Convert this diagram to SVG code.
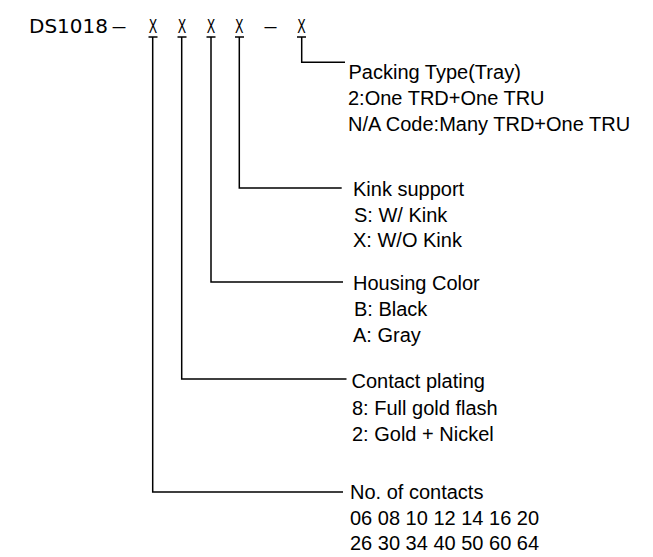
<svg xmlns="http://www.w3.org/2000/svg" width="653" height="557" viewBox="0 0 653 557">
<style>
.hdr{font-family:"DejaVu Sans",sans-serif;font-size:20px;fill:#000}
.lbl{font-family:"Liberation Sans",Arial,sans-serif;font-size:20px;fill:#000}
.c{fill:none;stroke:#000;stroke-width:1.5}
</style>
<rect width="653" height="557" fill="#fff"/>
<g id="header">
<text class="hdr" x="29" y="33">DS1018</text>
<text class="hdr" x="111" y="33" textLength="16" lengthAdjust="spacingAndGlyphs">–</text>
<text class="hdr" x="263" y="33" textLength="15" lengthAdjust="spacingAndGlyphs">–</text>
<text class="hdr" text-anchor="middle" transform="translate(153,33) scale(0.62,1)">X</text>
<text class="hdr" text-anchor="middle" transform="translate(182,33) scale(0.62,1)">X</text>
<text class="hdr" text-anchor="middle" transform="translate(211,33) scale(0.62,1)">X</text>
<text class="hdr" text-anchor="middle" transform="translate(239.3,33) scale(0.62,1)">X</text>
<text class="hdr" text-anchor="middle" transform="translate(301.5,33) scale(0.62,1)">X</text>
</g>
<g id="connectors">
<path class="c" d="M148.5 37H157.5M177.5 37H186.5M206.5 37H215.5M235 37H244M297 37H306"/>
<path class="c" d="M152.7 37V492H343"/>
<path class="c" d="M181.7 37V379H346.5"/>
<path class="c" d="M211 37V282H343"/>
<path class="c" d="M239.3 37V188H341.7"/>
<path class="c" d="M301.7 37V62.3H345"/>
</g>
<g id="packing">
<text class="lbl" x="348.5" y="79">Packing Type(Tray)</text>
<text class="lbl" x="348" y="105">2:One TRD+One TRU</text>
<text class="lbl" x="348" y="131">N/A Code:Many TRD+One TRU</text>
</g>
<g id="kink">
<text class="lbl" x="353" y="196">Kink support</text>
<text class="lbl" x="354" y="222">S: W/ Kink</text>
<text class="lbl" x="353" y="247">X: W/O Kink</text>
</g>
<g id="housing">
<text class="lbl" x="353" y="290">Housing Color</text>
<text class="lbl" x="354" y="316">B: Black</text>
<text class="lbl" x="353" y="342">A: Gray</text>
</g>
<g id="plating">
<text class="lbl" x="351.5" y="388">Contact plating</text>
<text class="lbl" x="352" y="415">8: Full gold flash</text>
<text class="lbl" x="352" y="441">2: Gold + Nickel</text>
</g>
<g id="contacts">
<text class="lbl" x="350" y="499">No. of contacts</text>
<text class="lbl" x="350" y="525">06 08 10 12 14 16 20</text>
<text class="lbl" x="350" y="550">26 30 34 40 50 60 64</text>
</g>
</svg>
